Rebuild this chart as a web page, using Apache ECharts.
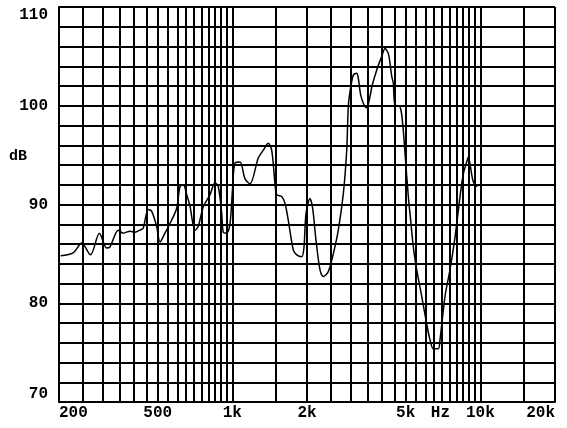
<!DOCTYPE html>
<html>
<head>
<meta charset="utf-8">
<script src="https://cdn.jsdelivr.net/npm/echarts@6/dist/echarts.min.js"></script>
<style>
  html, body { margin: 0; padding: 0; background: #fff; }
  #chart { width: 567px; height: 428px; }
</style>
</head>
<body>
<div id="chart"></div>
<script>
// frequency response (Hz, dB)
const freqs = [203, 228, 247, 268, 291, 311, 321, 347, 363, 387, 405, 424, 437, 458, 473, 495, 511, 535, 561, 596,
  615, 634, 655, 675, 707, 729, 764, 813, 851, 878, 906, 919, 949, 979, 1003, 1025, 1074, 1125, 1178, 1272,
  1333, 1396, 1441, 1486, 1510, 1581, 1631, 1681, 1761, 1818, 1904, 1945, 1982, 2056, 2108, 2174, 2256, 2327, 2437, 2553,
  2674, 2802, 2892, 2935, 3002, 3075, 3173, 3220, 3292, 3394, 3481, 3566, 3667, 3819, 4002, 4127, 4254, 4323, 4391, 4457,
  4526, 4742, 4862, 4968, 5124, 5238, 5366, 5538, 5802, 6077, 6266, 6460, 6767, 6876, 7204, 7546, 7906, 8281, 8537, 8811,
  8944, 9087, 9316, 9516, 9722]
const levels = [84.8, 85.1, 86.1, 84.9, 87.1, 85.6, 85.7, 87.4, 87.1, 87.3, 87.2, 87.4, 87.6, 89.5, 89.3, 87.8, 86.2, 87.1, 88.1, 89.6,
  91.8, 92.0, 91.0, 89.8, 87.4, 87.8, 89.8, 91.0, 92.2, 91.8, 89.1, 87.2, 87.1, 88.1, 91.8, 94.2, 94.3, 92.6, 92.1, 94.7,
  95.5, 96.2, 95.5, 92.1, 91.0, 90.8, 90.1, 88.4, 85.4, 84.9, 84.7, 85.7, 89.1, 90.6, 89.6, 86.4, 83.4, 82.7, 83.2, 85.0,
  87.4, 91.1, 95.5, 99.9, 101.9, 103.1, 103.3, 102.8, 101.1, 100.1, 99.8, 100.6, 102.1, 103.6, 105.0, 105.8, 105.3, 104.3, 103.0, 102.3,
  100.1, 99.9, 98.2, 95.2, 90.8, 88.4, 85.7, 83.4, 80.7, 77.9, 76.3, 75.4, 75.4, 76.3, 80.7, 83.4, 86.7, 90.8, 93.1, 94.3,
  94.8, 94.1, 92.5, 92.0, 91.8]

// vertical grid lines (Hz)
const gridFreqs = []
for (let f = 200; f <= 1000; f += 50) gridFreqs.push(f)
for (let f = 1500; f <= 10000; f += 500) gridFreqs.push(f)
gridFreqs.push(15000, 20000)

// x tick labels (Hz -> text)
const tickFreqs = [200, 500, 1000, 2000, 5000, 6900, 10000, 20000]
const tickTexts = ['200', '500', '1k', '2k', '5k', 'Hz', '10k', '20k']

const lg = v => Math.log10(v)
const labelFont = { fontFamily: 'Liberation Mono', fontWeight: 'bold', fontSize: 16, color: '#000' }

const chart = echarts.init(document.getElementById('chart'))
chart.setOption({
  animation: false,
  grid: { left: 59, right: 12, top: 7, bottom: 26 },
  xAxis: {
    type: 'value',
    min: lg(200),
    max: lg(20000),
    axisLine: { show: true, lineStyle: { color: '#000', width: 2 } },
    axisTick: { show: false, customValues: gridFreqs.map(lg) },
    splitLine: { show: true, lineStyle: { color: '#000', width: 2 } },
    axisLabel: {
      customValues: tickFreqs.map(lg),
      margin: 3,
      alignMinLabel: 'left',
      alignMaxLabel: 'right',
      ...labelFont,
      formatter: v => {
        let best = 0
        tickFreqs.forEach((f, i) => { if (Math.abs(lg(f) - v) < Math.abs(lg(tickFreqs[best]) - v)) best = i })
        return tickTexts[best]
      }
    }
  },
  yAxis: {
    type: 'value',
    min: 70,
    max: 110,
    interval: 2,
    axisLine: { show: true, lineStyle: { color: '#000', width: 2 } },
    axisTick: { show: false },
    splitLine: { show: true, lineStyle: { color: '#000', width: 2 } },
    axisLabel: {
      margin: 11,
      verticalAlignMinLabel: 'bottom',
      verticalAlignMaxLabel: 'top',
      ...labelFont,
      formatter: v => (v % 10 === 0 ? String(v) : '')
    }
  },
  graphic: [{
    type: 'text', left: 9, top: 149,
    style: { text: 'dB', font: 'bold 15px "Liberation Mono"', fill: '#000' }
  }],
  series: [{
    type: 'line',
    data: freqs.map((f, i) => [lg(f), levels[i]]),
    showSymbol: false,
    smooth: 0.3,
    lineStyle: { color: '#000', width: 1.5 }
  }]
})
</script>
</body>
</html>
